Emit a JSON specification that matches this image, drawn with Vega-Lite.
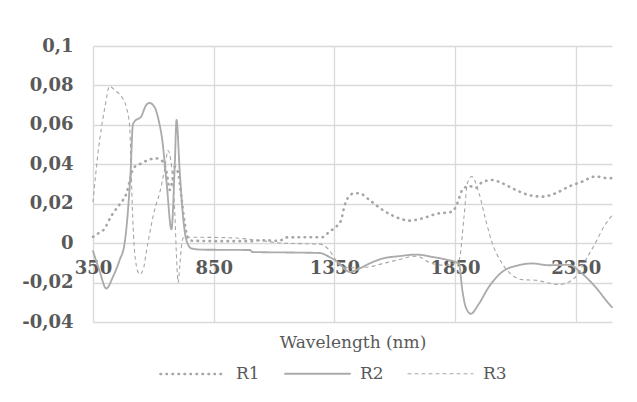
{
  "$schema": "https://vega.github.io/schema/vega-lite/v6.json",
  "width": 519,
  "height": 276,
  "autosize": {"type": "none"},
  "padding": {"left": 93, "top": 46, "right": 25, "bottom": 80},
  "background": "white",
  "config": {
    "view": {"stroke": null},
    "font": "DejaVu Serif",
    "legend": {
      "orient": "none",
      "legendX": 66,
      "legendY": 294,
      "padding": 0,
      "direction": "horizontal",
      "symbolType": "stroke",
      "symbolSize": 4225,
      "labelFont": "DejaVu Serif",
      "labelFontSize": 17,
      "labelColor": "#595959",
      "labelOffset": 9,
      "columnPadding": 21,
      "title": null
    }
  },
  "data": {
    "values": [
      {"wl": 350, "series": "R1", "v": 0.0032},
      {"wl": 371, "series": "R1", "v": 0.0049},
      {"wl": 393, "series": "R1", "v": 0.0066},
      {"wl": 427, "series": "R1", "v": 0.014},
      {"wl": 453, "series": "R1", "v": 0.0185},
      {"wl": 475, "series": "R1", "v": 0.022},
      {"wl": 489, "series": "R1", "v": 0.0253},
      {"wl": 503, "series": "R1", "v": 0.032},
      {"wl": 517, "series": "R1", "v": 0.038},
      {"wl": 551, "series": "R1", "v": 0.0405},
      {"wl": 586, "series": "R1", "v": 0.0425},
      {"wl": 613, "series": "R1", "v": 0.043},
      {"wl": 639, "series": "R1", "v": 0.0414},
      {"wl": 655, "series": "R1", "v": 0.036},
      {"wl": 668, "series": "R1", "v": 0.027},
      {"wl": 676, "series": "R1", "v": 0.03},
      {"wl": 689, "series": "R1", "v": 0.0388},
      {"wl": 702, "series": "R1", "v": 0.036},
      {"wl": 716, "series": "R1", "v": 0.0236},
      {"wl": 730, "series": "R1", "v": 0.01},
      {"wl": 744, "series": "R1", "v": 0.0024},
      {"wl": 764, "series": "R1", "v": 0.0012},
      {"wl": 900, "series": "R1", "v": 0.001},
      {"wl": 1000, "series": "R1", "v": 0.001},
      {"wl": 1050, "series": "R1", "v": 0.0015},
      {"wl": 1123, "series": "R1", "v": 0.0012},
      {"wl": 1150, "series": "R1", "v": 0.0029},
      {"wl": 1250, "series": "R1", "v": 0.003},
      {"wl": 1300, "series": "R1", "v": 0.003},
      {"wl": 1329, "series": "R1", "v": 0.0058},
      {"wl": 1357, "series": "R1", "v": 0.0083},
      {"wl": 1378, "series": "R1", "v": 0.0117},
      {"wl": 1391, "series": "R1", "v": 0.0185},
      {"wl": 1405, "series": "R1", "v": 0.0228},
      {"wl": 1433, "series": "R1", "v": 0.0253},
      {"wl": 1453, "series": "R1", "v": 0.0253},
      {"wl": 1495, "series": "R1", "v": 0.0219},
      {"wl": 1550, "series": "R1", "v": 0.0168},
      {"wl": 1619, "series": "R1", "v": 0.0126},
      {"wl": 1660, "series": "R1", "v": 0.0114},
      {"wl": 1715, "series": "R1", "v": 0.0126},
      {"wl": 1770, "series": "R1", "v": 0.0148},
      {"wl": 1839, "series": "R1", "v": 0.016},
      {"wl": 1859, "series": "R1", "v": 0.0202},
      {"wl": 1880, "series": "R1", "v": 0.027},
      {"wl": 1908, "series": "R1", "v": 0.029},
      {"wl": 1935, "series": "R1", "v": 0.028},
      {"wl": 1963, "series": "R1", "v": 0.031},
      {"wl": 2004, "series": "R1", "v": 0.032},
      {"wl": 2045, "series": "R1", "v": 0.0304},
      {"wl": 2101, "series": "R1", "v": 0.027},
      {"wl": 2156, "series": "R1", "v": 0.0244},
      {"wl": 2211, "series": "R1", "v": 0.0236},
      {"wl": 2266, "series": "R1", "v": 0.0253},
      {"wl": 2321, "series": "R1", "v": 0.0287},
      {"wl": 2376, "series": "R1", "v": 0.0312},
      {"wl": 2431, "series": "R1", "v": 0.0338},
      {"wl": 2486, "series": "R1", "v": 0.0329},
      {"wl": 2500, "series": "R1", "v": 0.033},

      {"wl": 350, "series": "R2", "v": -0.004},
      {"wl": 377, "series": "R2", "v": -0.014},
      {"wl": 405, "series": "R2", "v": -0.023},
      {"wl": 433, "series": "R2", "v": -0.017},
      {"wl": 460, "series": "R2", "v": -0.0087},
      {"wl": 481, "series": "R2", "v": 0},
      {"wl": 495, "series": "R2", "v": 0.0168},
      {"wl": 506, "series": "R2", "v": 0.037},
      {"wl": 515, "series": "R2", "v": 0.06},
      {"wl": 522, "series": "R2", "v": 0.0617},
      {"wl": 550, "series": "R2", "v": 0.0643},
      {"wl": 570, "series": "R2", "v": 0.07},
      {"wl": 584, "series": "R2", "v": 0.0711},
      {"wl": 605, "series": "R2", "v": 0.069},
      {"wl": 626, "series": "R2", "v": 0.06},
      {"wl": 635, "series": "R2", "v": 0.054},
      {"wl": 655, "series": "R2", "v": 0.0305},
      {"wl": 675, "series": "R2", "v": 0.007},
      {"wl": 689, "series": "R2", "v": 0.0407},
      {"wl": 696, "series": "R2", "v": 0.0625},
      {"wl": 709, "series": "R2", "v": 0.037},
      {"wl": 723, "series": "R2", "v": 0.0134},
      {"wl": 737, "series": "R2", "v": 0.0015},
      {"wl": 758, "series": "R2", "v": -0.0027},
      {"wl": 800, "series": "R2", "v": -0.0033},
      {"wl": 1000, "series": "R2", "v": -0.0035},
      {"wl": 1010, "series": "R2", "v": -0.0045},
      {"wl": 1200, "series": "R2", "v": -0.0048},
      {"wl": 1288, "series": "R2", "v": -0.005},
      {"wl": 1329, "series": "R2", "v": -0.007},
      {"wl": 1371, "series": "R2", "v": -0.0104},
      {"wl": 1398, "series": "R2", "v": -0.0137},
      {"wl": 1412, "series": "R2", "v": -0.0146},
      {"wl": 1453, "series": "R2", "v": -0.0129},
      {"wl": 1494, "series": "R2", "v": -0.0104},
      {"wl": 1550, "series": "R2", "v": -0.0078},
      {"wl": 1619, "series": "R2", "v": -0.0066},
      {"wl": 1688, "series": "R2", "v": -0.0058},
      {"wl": 1756, "series": "R2", "v": -0.007},
      {"wl": 1811, "series": "R2", "v": -0.0083},
      {"wl": 1866, "series": "R2", "v": -0.0104},
      {"wl": 1880, "series": "R2", "v": -0.0239},
      {"wl": 1894, "series": "R2", "v": -0.0324},
      {"wl": 1915, "series": "R2", "v": -0.0358},
      {"wl": 1949, "series": "R2", "v": -0.0307},
      {"wl": 1990, "series": "R2", "v": -0.0222},
      {"wl": 2045, "series": "R2", "v": -0.0146},
      {"wl": 2114, "series": "R2", "v": -0.0112},
      {"wl": 2169, "series": "R2", "v": -0.0103},
      {"wl": 2238, "series": "R2", "v": -0.0112},
      {"wl": 2321, "series": "R2", "v": -0.011},
      {"wl": 2376, "series": "R2", "v": -0.0154},
      {"wl": 2431, "series": "R2", "v": -0.0222},
      {"wl": 2493, "series": "R2", "v": -0.0316},
      {"wl": 2500, "series": "R2", "v": -0.0325},

      {"wl": 350, "series": "R3", "v": 0.021},
      {"wl": 371, "series": "R3", "v": 0.046},
      {"wl": 398, "series": "R3", "v": 0.068},
      {"wl": 419, "series": "R3", "v": 0.0796},
      {"wl": 440, "series": "R3", "v": 0.0775},
      {"wl": 467, "series": "R3", "v": 0.0745},
      {"wl": 488, "series": "R3", "v": 0.069},
      {"wl": 502, "series": "R3", "v": 0.059},
      {"wl": 508, "series": "R3", "v": 0.037},
      {"wl": 515, "series": "R3", "v": 0.0117},
      {"wl": 526, "series": "R3", "v": -0.0087},
      {"wl": 543, "series": "R3", "v": -0.0158},
      {"wl": 557, "series": "R3", "v": -0.0137},
      {"wl": 577, "series": "R3", "v": 0},
      {"wl": 605, "series": "R3", "v": 0.0168},
      {"wl": 626, "series": "R3", "v": 0.0254},
      {"wl": 646, "series": "R3", "v": 0.037},
      {"wl": 661, "series": "R3", "v": 0.047},
      {"wl": 676, "series": "R3", "v": 0.038},
      {"wl": 689, "series": "R3", "v": 0.015},
      {"wl": 697, "series": "R3", "v": -0.01},
      {"wl": 703, "series": "R3", "v": -0.02},
      {"wl": 709, "series": "R3", "v": -0.012},
      {"wl": 718, "series": "R3", "v": 0},
      {"wl": 726, "series": "R3", "v": 0.003},
      {"wl": 751, "series": "R3", "v": 0.003},
      {"wl": 900, "series": "R3", "v": 0.0028},
      {"wl": 1000, "series": "R3", "v": 0.002},
      {"wl": 1136, "series": "R3", "v": 0},
      {"wl": 1290, "series": "R3", "v": -0.0005},
      {"wl": 1329, "series": "R3", "v": -0.0036},
      {"wl": 1357, "series": "R3", "v": -0.0087},
      {"wl": 1384, "series": "R3", "v": -0.012},
      {"wl": 1426, "series": "R3", "v": -0.0125},
      {"wl": 1495, "series": "R3", "v": -0.012},
      {"wl": 1550, "series": "R3", "v": -0.0104},
      {"wl": 1619, "series": "R3", "v": -0.0083},
      {"wl": 1688, "series": "R3", "v": -0.0066},
      {"wl": 1756, "series": "R3", "v": -0.0104},
      {"wl": 1811, "series": "R3", "v": -0.0112},
      {"wl": 1866, "series": "R3", "v": -0.0087},
      {"wl": 1887, "series": "R3", "v": 0.0134},
      {"wl": 1901, "series": "R3", "v": 0.0304},
      {"wl": 1919, "series": "R3", "v": 0.0338},
      {"wl": 1949, "series": "R3", "v": 0.0253},
      {"wl": 1977, "series": "R3", "v": 0.0117},
      {"wl": 2004, "series": "R3", "v": 0},
      {"wl": 2045, "series": "R3", "v": -0.0103},
      {"wl": 2087, "series": "R3", "v": -0.0163},
      {"wl": 2128, "series": "R3", "v": -0.0185},
      {"wl": 2183, "series": "R3", "v": -0.0188},
      {"wl": 2238, "series": "R3", "v": -0.0202},
      {"wl": 2280, "series": "R3", "v": -0.021},
      {"wl": 2321, "series": "R3", "v": -0.0197},
      {"wl": 2349, "series": "R3", "v": -0.0171},
      {"wl": 2390, "series": "R3", "v": -0.0087},
      {"wl": 2431, "series": "R3", "v": 0},
      {"wl": 2466, "series": "R3", "v": 0.0083},
      {"wl": 2500, "series": "R3", "v": 0.014}
    ]
  },
  "mark": {"type": "line", "strokeCap": "round", "strokeJoin": "round", "interpolate": "monotone"},
  "encoding": {
    "x": {
      "field": "wl",
      "type": "quantitative",
      "scale": {"domain": [350, 2500], "nice": false, "zero": false},
      "axis": {
        "values": [350, 850, 1350, 1850, 2350],
        "format": "d",
        "title": "Wavelength (nm)",
        "grid": true,
        "gridColor": "#d9d9d9",
        "gridWidth": 1.3,
        "domain": false,
        "ticks": false,
        "offset": -79,
        "labelFont": "DejaVu Serif",
        "labelFontSize": 18,
        "labelFontWeight": "bold",
        "labelColor": "#595959",
        "labelPadding": 16,
        "labelFlush": false,
        "titleFont": "DejaVu Serif",
        "titleFontSize": 17,
        "titleFontWeight": "normal",
        "titleColor": "#595959",
        "titlePadding": 57
      }
    },
    "y": {
      "field": "v",
      "type": "quantitative",
      "scale": {"domain": [-0.04, 0.1], "nice": false, "zero": false},
      "axis": {
        "values": [-0.04, -0.02, 0, 0.02, 0.04, 0.06, 0.08, 0.1],
        "title": null,
        "grid": true,
        "gridColor": "#d9d9d9",
        "gridWidth": 1.3,
        "domain": false,
        "ticks": false,
        "labelFont": "DejaVu Serif",
        "labelFontSize": 18,
        "labelFontWeight": "bold",
        "labelColor": "#595959",
        "labelPadding": 20,
        "labelExpr": "replace(replace(format(datum.value, '.2~f'), '.', ','), '\u2212', '-')"
      }
    },
    "color": {
      "field": "series",
      "type": "nominal",
      "scale": {"domain": ["R1", "R2", "R3"], "range": ["#a6a6a6", "#ababab", "#a6a6a6"]},
      "legend": {"title": null, "encode": {"symbols": {"update": {"strokeCap": {"value": "round"}}}}}
    },
    "strokeDash": {
      "field": "series",
      "type": "nominal",
      "scale": {"domain": ["R1", "R2", "R3"], "range": [[0.5, 5.5], [1, 0], [3, 4]]},
      "legend": {"title": null}
    },
    "strokeWidth": {
      "field": "series",
      "type": "nominal",
      "scale": {"domain": ["R1", "R2", "R3"], "range": [2.6, 1.1, 1.2]},
      "legend": {"title": null}
    }
  }
}
